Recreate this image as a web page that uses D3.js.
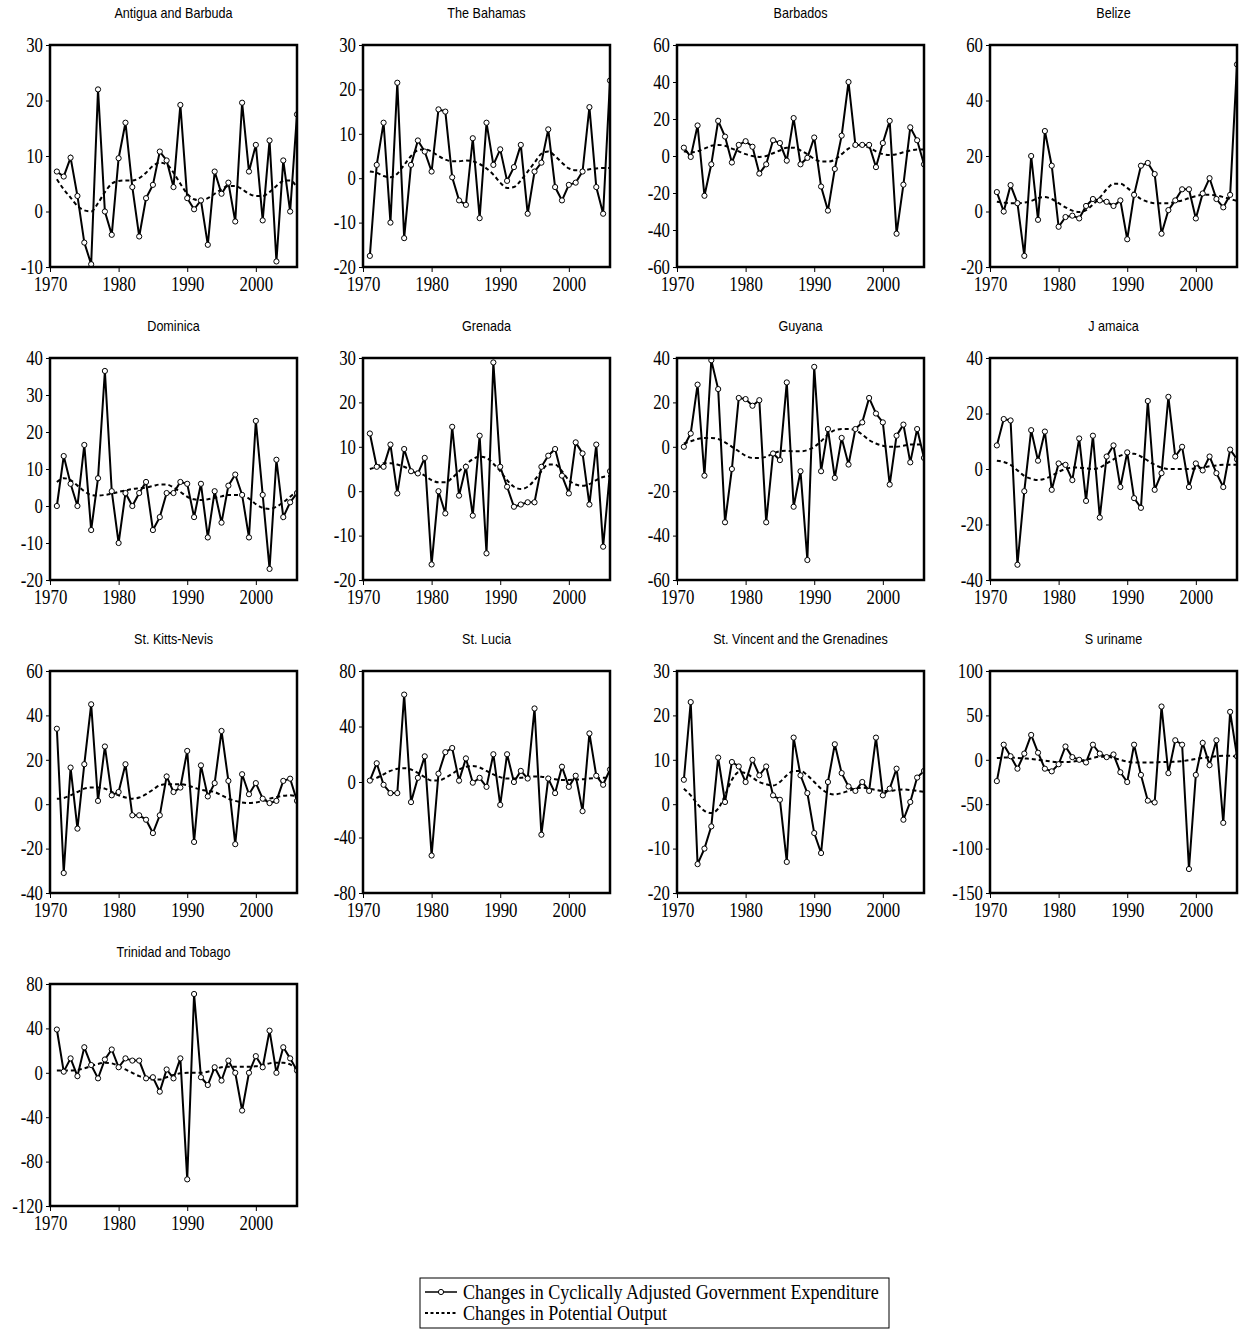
<!DOCTYPE html>
<html>
<head>
<meta charset="utf-8">
<script src="https://cdn.jsdelivr.net/npm/d3@7"></script>
<style>
  body { margin: 0; background: #fff; }
  svg { display: block; }
</style>
</head>
<body>
<div id="chart"></div>
<script>
const years = d3.range(1971, 2007);

const countries = ["Antigua and Barbuda", "The Bahamas", "Barbados", "Belize",
  "Dominica", "Grenada", "Guyana", "J amaica",
  "St. Kitts-Nevis", "St. Lucia", "St. Vincent and the Grenadines", "S uriname",
  "Trinidad and Tobago"];

const yDomains = [[-10, 30], [-20, 30], [-60, 60], [-20, 60],
  [-20, 40], [-20, 30], [-60, 40], [-40, 40],
  [-40, 60], [-80, 80], [-20, 30], [-150, 100],
  [-120, 80]];
const yTickStep = [10, 10, 20, 20, 10, 10, 20, 20, 20, 40, 10, 50, 40];
const xTicks = [1970, 1980, 1990, 2000];

// changes in cyclically adjusted government expenditure
const expenditure = [
  [7.2, 6.3, 9.7, 2.8, -5.6, -9.5, 22, 0, -4.2, 9.6, 16, 4.4, -4.5, 2.4, 4.8, 10.8, 9.2, 4.4, 19.2, 2.4, 0.4, 2.0, -6.0, 7.2, 3.2, 5.2, -1.8, 19.6, 7.2, 12, -1.6, 12.8, -9, 9.2, 0, 17.5],
  [-17.5, 3, 12.5, -10, 21.5, -13.5, 3, 8.5, 6, 1.5, 15.5, 15, 0.2, -5, -6, 9, -9, 12.5, 3, 6.5, -0.6, 2.5, 7.5, -8, 1.5, 3.5, 11, -2, -5, -1.5, -1, 1.5, 16, -2, -8, 22],
  [4.5, -0.5, 16.5, -21.5, -4.5, 19, 10.5, -3.5, 6, 8, 5, -9.5, -4.5, 8.5, 7, -2.5, 20.5, -4.5, -1, 10, -16.5, -29.5, -7, 11, 40, 6, 6, 6, -6, 7, 19, -42, -15.5, 15.5, 8.5, -4.5],
  [7, 0, 9.5, 3, -16, 20, -3, 29, 16.5, -5.5, -2, -1.5, -2.5, 2, 4.5, 4, 3.5, 2, 4, -10, 6, 16.5, 17.5, 13.5, -8, 0.5, 4, 8, 8, -2.5, 6.5, 12, 4.5, 1.5, 6, 53],
  [0, 13.5, 6, 0, 16.5, -6.5, 7.5, 36.5, 4, -10, 3.5, 0, 3.5, 6.5, -6.5, -3, 3.5, 3.5, 6.5, 6, -3, 6, -8.5, 4, -4.5, 5.5, 8.5, 3, -8.5, 23, 3, -17, 12.5, -3, 1, 3.5],
  [13, 5.5, 5.5, 10.5, -0.5, 9.5, 4.5, 4, 7.5, -16.5, 0, -5, 14.5, -1, 5.5, -5.5, 12.5, -14, 29, 5.5, 1, -3.5, -3, -2.5, -2.5, 5.5, 8, 9.5, 3.5, -0.5, 11, 8.5, -3, 10.5, -12.5, 4.5],
  [0, 6, 28, -13, 39, 26, -34, -10, 22, 21.5, 18.5, 21, -34, -3, -6, 29, -27, -11, -51, 36, -11, 8, -14, 4, -8, 8, 11, 22, 15, 11, -17, 5, 10, -7, 8, -5],
  [8.5, 18, 17.5, -34.5, -8, 14, 3, 13.5, -7.5, 2, 1.5, -4, 11, -11.5, 12, -17.5, 4.5, 8.5, -6.5, 6, -10.5, -14, 24.5, -7.5, -1.5, 26, 4.5, 8, -6.5, 2, -0.5, 4.5, -1.5, -6.5, 7, 3.5],
  [34, -31, 16.5, -11, 18, 45, 1.5, 26, 4, 5.5, 18, -5, -5, -7, -13, -5, 12.5, 5.5, 7.5, 24, -17, 17.5, 3.5, 9.5, 33, 10.5, -18, 13.5, 4.5, 9.5, 2.5, 0.5, 1.5, 10.5, 11.5, 1.5],
  [1, 13.5, -2, -8, -8, 63, -14.5, 3, 18.5, -53, 6, 21.5, 24.5, 1, 17, -0.5, 3, -3.5, 20, -16.5, 20, 0, 8, 2.5, 53, -38, 2.5, -8, 11, -3.5, 4.5, -21, 35, 4.5, -2, 9],
  [5.5, 23, -13.5, -10, -5, 10.5, 0.5, 9.5, 8.5, 5, 10, 6.5, 8.5, 2, 1, -13, 15, 6.5, 2.5, -6.5, -11, 5, 13.5, 7, 4, 3, 5, 3, 15, 2, 3.5, 8, -3.5, 0.5, 6, 7.5],
  [-24, 17, 4, -10, 7, 28, 8, -10, -13, -5, 15, 3, 0, -3, 17, 7, 3, 6, -14, -25, 17, -17, -46, -48, 60, -15, 22, 17, -123, -17, 19, -6, 22, -71, 54, 4],
  [39, 1, 13, -3, 23, 7, -5, 12, 21, 5, 13, 11, 11, -5, -4, -17, 3, -5, 13, -96, 71, -4, -11, 5, -7, 11, 0, -34, 0, 15, 5, 38, 0, 23, 13, 2]
];

// changes in potential output
const potential = [
  [5.8, 4, 2.5, 1, 0.2, 0, 1.5, 3.5, 5, 5.5, 5.6, 5.6, 6, 7, 8.2, 8.8, 8.5, 7, 5, 3.2, 2.2, 2, 2.4, 3.2, 4, 4.6, 4.6, 4, 3.2, 2.8, 2.8, 3.5, 4.6, 5.5, 5.6, 4.3],
  [1.5, 1.2, 0.5, 0.2, 1, 3, 5, 6.3, 6.5, 6, 5, 4.2, 3.8, 3.8, 4, 3.8, 3.2, 2.2, 0.8, -1, -2.2, -2, -0.5, 1.5, 3.5, 5.5, 6, 5, 3.5, 2.2, 1.8, 1.8, 2, 2.2, 2.3, 2.3],
  [2.5, 2, 2.5, 4, 5.5, 6, 5.5, 4, 2.5, 1, 0, -0.5, 0, 1.5, 3, 4.5, 4.5, 3, 1, -1.5, -3, -3, -2, 1, 4, 5.5, 5.5, 4.5, 2.5, 1, 0.5, 1, 2, 3, 3.5, 3.5],
  [3.5, 3.2, 3, 3, 3.2, 3.8, 4.8, 5.2, 4.5, 3, 1.5, 0.3, -0.2, 0.5, 2.5, 5, 8, 10, 10, 8.5, 6.5, 4.5, 3.5, 3, 3, 3, 3.5, 4, 4.8, 5.5, 6, 6, 5.8, 5.2, 4.5, 3.8],
  [6.5, 7.5, 7, 5.5, 4, 3, 2.8, 3, 3.3, 3.8, 4.2, 4.6, 4.8, 5, 5.4, 5.8, 5.8, 5, 3.8, 2.5, 1.8, 1.6, 1.8, 2.2, 2.6, 3, 3, 2.8, 2, 0.5, -0.5, -0.8, -0.2, 1, 2.5, 4],
  [5, 5.5, 6.3, 6.3, 6, 5.5, 4.8, 4.3, 3.5, 2.5, 2, 2, 3, 4.5, 6, 7.2, 7.8, 7.5, 6.2, 4.5, 2.5, 1, 0.5, 1, 2.5, 4.5, 6, 6, 4.5, 2.5, 1.5, 1.2, 1.6, 2.5, 3.2, 3.4],
  [1.5, 2.5, 3.5, 4, 4, 3.5, 2, 0, -2, -4, -5, -5, -4.5, -3, -2, -1.8, -2, -2, -1.5, 0, 2.5, 5.5, 7.5, 8, 8, 7.5, 5.5, 3, 1.5, 0.5, 0, 0, 0.5, 1, 1, 1],
  [3, 2.5, 1.5, -0.5, -2.5, -3.5, -4, -3.5, -2.5, -1, 0, 0.5, 0.5, 0.2, 0, 0.5, 2, 3.5, 4.8, 5.5, 5.5, 4.5, 3, 1.5, 0.5, 0, 0, 0, 0, 0.2, 0.5, 1, 1.3, 1.5, 1.5, 1.5],
  [2.5, 2.8, 4, 5.5, 7, 7.5, 7.5, 7, 5.5, 4, 3, 2.5, 3, 4.5, 6.5, 8.5, 9, 9, 9, 8.5, 7.5, 6.5, 6, 5.5, 4, 2.5, 1.5, 0.8, 0.5, 0.8, 1.5, 2.5, 3.2, 3.8, 4, 3.5],
  [1, 3, 5.5, 8, 9.5, 10, 9, 6.5, 3.5, 1, 1, 3, 6, 9, 11, 11.5, 10.5, 8, 5.5, 3.5, 2.5, 2.5, 3, 3.8, 4, 3.8, 3, 2, 1.5, 1.5, 1.8, 2, 2.5, 2.8, 3, 3],
  [3.5, 2, 0, -1.5, -2, -1, 2, 5.5, 7.2, 7, 6, 5, 4.5, 4.2, 5, 6.5, 7.5, 7.5, 6.5, 5, 3.5, 2.5, 2.2, 2.5, 3, 3.5, 3.7, 3.5, 3.2, 3, 3, 3.2, 3.3, 3.2, 3, 2.8],
  [2, 2.5, 2.5, 2, 1.5, 1, 0, -1, -2, -2.5, -2.5, -2, -1, 0, 2, 3.5, 3.5, 2, 0, -2, -3, -3, -3, -3, -2.5, -2.5, -2, -1.5, -0.5, 1, 2, 3, 4, 4.5, 4.5, 3],
  [2, 2, 2, 2.5, 4, 6, 8, 9, 8.5, 6, 3, 0, -3, -5, -6, -6, -4, -2, -0.5, 0, 0, 0, 1, 3, 5, 5.5, 5.5, 5.5, 5.5, 6, 7, 8.5, 9, 9, 7.5, 3]
];

const legendLabels = ["Changes in Cyclically Adjusted Government Expenditure", "Changes in Potential Output"];

const W = 1245, H = 1337;
const pw = 247, ph = 222;
const colX = [50, 363, 677, 990];
const rowY = [45, 358, 671, 984];
const serif = "'Liberation Serif', 'Times New Roman', serif";
const sans = "'Liberation Sans', Arial, sans-serif";

const svg = d3.select("#chart").append("svg")
  .attr("width", W).attr("height", H);

countries.forEach((name, i) => {
  const g = svg.append("g")
    .attr("transform", `translate(${colX[i % 4]},${rowY[Math.floor(i / 4)]})`);

  const x = d3.scaleLinear().domain([1970, 2006]).range([0, pw]);
  const y = d3.scaleLinear().domain(yDomains[i]).range([ph, 0]);
  const step = yTickStep[i];
  const yTicks = d3.range(yDomains[i][0], yDomains[i][1] + step / 2, step);

  g.append("text")
    .attr("transform", `translate(${pw / 2},-27) scale(0.9,1)`)
    .attr("text-anchor", "middle")
    .style("font-family", sans).style("font-size", "14px")
    .text(name);

  const yAxis = g.append("g")
    .call(d3.axisLeft(y).tickValues(yTicks).tickSize(4).tickPadding(2).tickFormat(d3.format("d")));
  const xAxis = g.append("g")
    .attr("transform", `translate(0,${ph})`)
    .call(d3.axisBottom(x).tickValues(xTicks).tickSize(5).tickPadding(4).tickFormat(d3.format("d")));
  [yAxis, xAxis].forEach(a => {
    a.select(".domain").remove();
    a.selectAll("line").attr("stroke", "#000").attr("stroke-width", 1);
    a.selectAll("text")
      .attr("fill", "#000")
      .style("font-family", serif).style("font-size", "21px");
  });
  yAxis.selectAll("text")
    .attr("dy", "0.3em")
    .attr("transform", "scale(0.8,1)")
    .attr("x", -7 / 0.8)
    .text(d => d < 0 ? "-" + Math.abs(d) : d);
  xAxis.selectAll("text").attr("transform", "scale(0.8,1)");

  const clipId = "clip" + i;
  g.append("clipPath").attr("id", clipId)
    .append("rect").attr("x", -4).attr("y", 0).attr("width", pw + 4).attr("height", ph);

  const line = d3.line().x((d, k) => x(years[k])).y(d => y(d));
  const plot = g.append("g").attr("clip-path", `url(#${clipId})`);

  plot.append("path")
    .datum(potential[i])
    .attr("d", line.curve(d3.curveMonotoneX))
    .attr("fill", "none").attr("stroke", "#000")
    .attr("stroke-width", 2).attr("stroke-dasharray", "4,3");

  plot.append("path")
    .datum(expenditure[i])
    .attr("d", d3.line().x((d, k) => x(years[k])).y(d => y(d)))
    .attr("fill", "none").attr("stroke", "#000").attr("stroke-width", 2);

  plot.selectAll("circle")
    .data(expenditure[i])
    .join("circle")
    .attr("cx", (d, k) => x(years[k]))
    .attr("cy", d => y(d))
    .attr("r", 2.6)
    .attr("fill", "#fff").attr("stroke", "#000").attr("stroke-width", 1);

  g.append("rect")
    .attr("width", pw).attr("height", ph)
    .attr("fill", "none").attr("stroke", "#000").attr("stroke-width", 2.5);
});

// legend
const lg = svg.append("g").attr("transform", "translate(420,1278)");
lg.append("rect").attr("width", 469).attr("height", 50)
  .attr("fill", "none").attr("stroke", "#000").attr("stroke-width", 1);
legendLabels.forEach((lab, k) => {
  const yy = 14 + k * 21;
  lg.append("line").attr("x1", 5).attr("x2", 37).attr("y1", yy).attr("y2", yy)
    .attr("stroke", "#000").attr("stroke-width", k ? 1.8 : 1.5)
    .attr("stroke-dasharray", k ? "3,2.5" : null);
  if (k === 0) {
    lg.append("circle").attr("cx", 21).attr("cy", yy).attr("r", 2.6)
      .attr("fill", "#fff").attr("stroke", "#000");
  }
  lg.append("text")
    .attr("transform", `translate(43,${yy}) scale(0.86,1)`)
    .attr("dy", "0.35em")
    .style("font-family", serif).style("font-size", "21px")
    .text(lab);
});
</script>
</body>
</html>
